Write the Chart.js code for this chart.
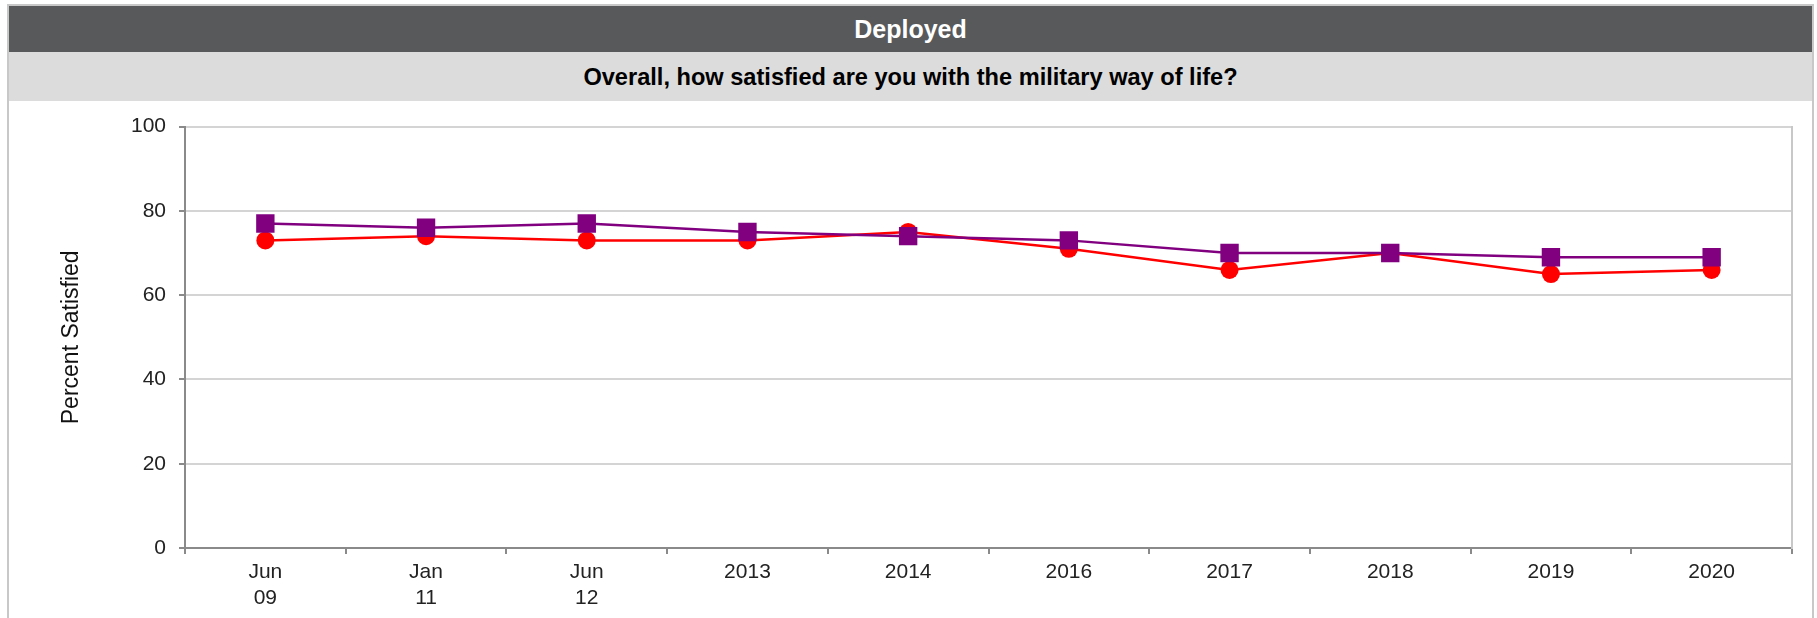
<!DOCTYPE html>
<html>
<head>
<title>Deployed - military way of life</title>
<script src="https://cdn.jsdelivr.net/npm/chart.js@4.4.0/dist/chart.umd.min.js"></script>
<style>
  body { margin: 0; background: #fff; font-family: "Liberation Sans", Arial, sans-serif; }
  #frame { position: absolute; left: 7px; top: 4px; width: 1803px; height: 640px;
           border: 2px solid #c8c8c8; border-bottom: none; }
  #head { height: 46px; line-height: 46px; background: #58595b; color: #fff;
          text-align: center; font-weight: bold; font-size: 25px; }
  #sub { height: 49px; line-height: 50px; background: #dcdcdc; color: #000;
         text-align: center; font-weight: bold; font-size: 23.6px; }
  #box { position: relative; width: 1803px; height: 517px; }
</style>
</head>
<body>

<div id="frame">
  <div id="head">Deployed</div>
  <div id="sub">Overall, how satisfied are you with the military way of life?</div>
  <div id="box"><canvas id="myChart"></canvas></div>
</div>

<script>
// survey waves
var waves = [['Jun', '09'], ['Jan', '11'], ['Jun', '12'], '2013', '2014', '2016', '2017', '2018', '2019', '2020'];

// percent satisfied per wave
var purpleSeries = [77, 76, 77, 75, 74, 73, 70, 70, 69, 69];
var redSeries = [73, 74, 73, 73, 75, 71, 66, 70, 65, 66];

// y axis
var yMin = 0;
var yMax = 100;
var yStep = 20;

var fontFamily = "'Liberation Sans', Arial, sans-serif";
var axisGray = '#8a8a8a';

var ctx = document.getElementById('myChart').getContext('2d');
var chart = new Chart(ctx, {
    type: 'line',
    data: {
        labels: waves,
        datasets: [{
            data: purpleSeries,
            order: 0,
            borderColor: '#800080',
            backgroundColor: '#800080',
            borderWidth: 2.5,
            pointStyle: 'rect',
            pointRadius: 13,
            pointBorderWidth: 0,
            tension: 0
        }, {
            data: redSeries,
            order: 1,
            borderColor: '#ff0000',
            backgroundColor: '#ff0000',
            borderWidth: 2.5,
            pointStyle: 'circle',
            pointRadius: 9,
            pointBorderWidth: 0,
            tension: 0
        }]
    },
    options: {
        responsive: true,
        maintainAspectRatio: false,
        animation: false,
        layout: { padding: { left: 0, top: 23, right: 20, bottom: 0 } },
        plugins: { legend: { display: false }, tooltip: { enabled: false } },
        scales: {
            x: {
                offset: true,
                grid: { offset: true, drawOnChartArea: false, tickLength: 6, tickColor: axisGray, lineWidth: 2 },
                border: { color: axisGray, width: 2 },
                ticks: { color: '#222', padding: 6, maxRotation: 0, autoSkip: false,
                         font: { family: fontFamily, size: 21 } },
                afterFit: function (scale) { scale.height = 70; }
            },
            y: {
                min: yMin,
                max: yMax,
                grid: { color: '#d4d4d4', lineWidth: 2, tickLength: 6, tickColor: axisGray },
                border: { color: axisGray, width: 2 },
                ticks: { stepSize: yStep, color: '#222', padding: 13,
                         font: { family: fontFamily, size: 21 } },
                title: { display: true, text: 'Percent Satisfied', color: '#111',
                         padding: { top: 49, bottom: 0 },
                         font: { family: fontFamily, size: 23 } },
                afterFit: function (scale) { scale.width = 176; }
            },
            // right edge of the plot frame
            yRight: {
                position: 'right',
                min: yMin,
                max: yMax,
                grid: { drawOnChartArea: false, drawTicks: false },
                border: { color: '#c8c8c8', width: 2 },
                ticks: { display: false },
                afterFit: function (scale) { scale.width = 0; }
            }
        }
    }
});
</script>
</body>
</html>
